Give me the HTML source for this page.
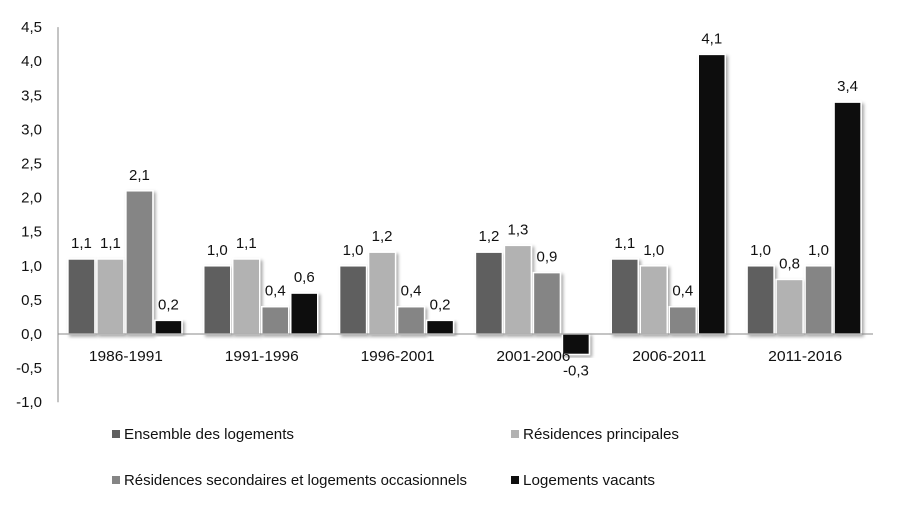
<!DOCTYPE html>
<html><head><meta charset="utf-8"><style>
body{margin:0;background:#fff;}
svg text{font-family:"Liberation Sans",sans-serif;fill:#111;}
</style></head><body>
<svg id="chart" width="905" height="512" xmlns="http://www.w3.org/2000/svg">
<defs><filter id="sh" x="-20%" y="-5%" width="150%" height="120%"><feDropShadow dx="2" dy="2" stdDeviation="1.5" flood-color="#000" flood-opacity="0.35"/></filter></defs>
<g id="yaxis"></g>
<g id="bars"></g>
<g id="xaxis"></g>
<g id="legend"></g>
</svg>
<script>
const categories=["1986-1991","1991-1996","1996-2001","2001-2006","2006-2011","2011-2016"];
const ensemble=[1.1,1.0,1.0,1.2,1.1,1.0];
const principales=[1.1,1.1,1.2,1.3,1.0,0.8];
const secondaires=[2.1,0.4,0.4,0.9,0.4,1.0];
const vacants=[0.2,0.6,0.2,-0.3,4.1,3.4];
const seriesNames=["Ensemble des logements","Résidences principales","Résidences secondaires et logements occasionnels","Logements vacants"];
const yTicks=[-1.0,-0.5,0,0.5,1.0,1.5,2.0,2.5,3.0,3.5,4.0,4.5];

const NS="http://www.w3.org/2000/svg";
const colors=["#5f5f5f","#b2b2b2","#858585","#0e0e0e"];
const series=[ensemble,principales,secondaires,vacants];
const x0=58,x1=873,y0px=334,ppu=68.2;
const y=v=>y0px-v*ppu;
const gw=(x1-x0)/categories.length;
const gx=i=>x0+gw*(i+0.5);
const fmt=v=>v.toFixed(1).replace('.',',');
function el(t,a,p){const e=document.createElementNS(NS,t);for(const k in a)e.setAttribute(k,a[k]);p.appendChild(e);return e;}
const ya=document.getElementById('yaxis'),ba=document.getElementById('bars'),xa=document.getElementById('xaxis'),lg=document.getElementById('legend');
el('line',{x1:x0,x2:x0,y1:y(4.5),y2:y(-1.0),stroke:'#888','stroke-width':1},ya);
yTicks.forEach(t=>{const e=el('text',{x:42,y:y(t)+5,'text-anchor':'end','font-size':15},ya);e.textContent=fmt(t);

});
series.forEach((s,si)=>{s.forEach((v,i)=>{
 const bx=gx(i)-58+si*29;
 const top=Math.min(y(v),y0px),h=Math.abs(y(v)-y0px);
 const r=el('rect',{x:bx,y:top,width:27,height:h,fill:colors[si],stroke:'#fff','stroke-width':1.5,filter:'url(#sh)'},ba);
 
 
 const ly=v>=0?y(v)-11:y(v)+21;
 const t=el('text',{x:bx+13.5,y:ly,'text-anchor':'middle','font-size':15},ba);t.textContent=fmt(v);
 
 
});});
el('line',{x1:x0,x2:x1,y1:y0px,y2:y0px,stroke:'#888','stroke-width':1},xa);
categories.forEach((c,i)=>{const t=el('text',{x:gx(i),y:361,'text-anchor':'middle','font-size':15,textLength:74,lengthAdjust:'spacingAndGlyphs'},xa);t.textContent=c;

});
const lpos=[[112,434],[511,434],[112,480],[511,480]];
const lw=[170,156,343,132];
seriesNames.forEach((n,i)=>{const g=el('g',{},lg);


el('rect',{x:lpos[i][0],y:lpos[i][1]-4,width:8,height:8,fill:colors[i]},g);
const t=el('text',{x:lpos[i][0]+12,y:lpos[i][1]+5,'font-size':15,textLength:lw[i],lengthAdjust:'spacingAndGlyphs'},g);t.textContent=n;});
</script>
</body></html>
